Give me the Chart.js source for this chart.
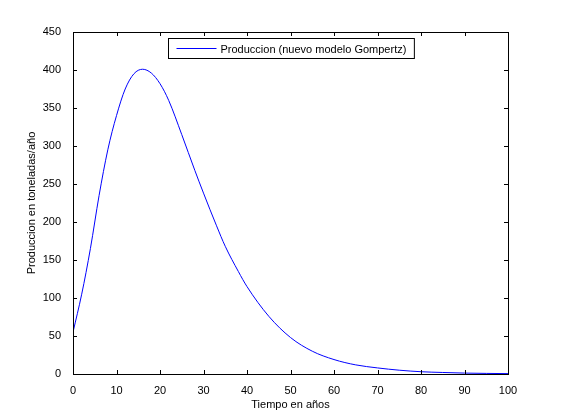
<!DOCTYPE html>
<html>
<head>
<meta charset="UTF-8">
<style>
  body { margin: 0; background: #fff; }
  #wrap { width: 561px; height: 420px; }
</style>
</head>
<body>
<div id="wrap"><canvas id="chart"></canvas></div>
<script src="https://cdn.jsdelivr.net/npm/chart.js"></script>
<script>
// Datos
const years = [0, 2, 4, 6, 8, 10, 12, 14, 16, 18, 20, 22, 25, 28, 30, 33, 35, 38, 40, 45, 50, 55, 60, 65, 70, 75, 80, 85, 90, 95, 100];
const produccion = [55, 105, 165, 235, 295, 340, 375, 395, 401, 396, 382, 360, 315, 268, 238, 195, 168, 135, 115, 76, 48, 30, 19, 12, 8, 5, 3, 2, 1.2, 0.8, 0.5];
const xTicks = [0, 10, 20, 30, 40, 50, 60, 70, 80, 90, 100];
const yTicks = [0, 50, 100, 150, 200, 250, 300, 350, 400, 450];
const legendText = 'Produccion (nuevo modelo Gompertz)';

const font = { family: 'Liberation Sans, Arial, sans-serif', size: 11 };

// ejes tipo matlab: marco, marcas hacia dentro, titulos y leyenda
const matlabAxes = {
  id: 'matlabAxes',
  afterDraw(chart) {
    const c = chart.ctx, a = chart.chartArea;
    const xs = chart.scales.x, ys = chart.scales.y;
    c.save();
    c.strokeStyle = '#000';
    c.lineWidth = 1;
    c.strokeRect(a.left + 0.5, a.top + 0.5, a.right - a.left, a.bottom - a.top);
    c.beginPath();
    xTicks.forEach(t => {
      const px = Math.round(xs.getPixelForValue(t)) + 0.5;
      c.moveTo(px, a.bottom); c.lineTo(px, a.bottom - 4);
      c.moveTo(px, a.top); c.lineTo(px, a.top + 4);
    });
    yTicks.forEach(t => {
      const py = Math.round(ys.getPixelForValue(t)) + 0.5;
      c.moveTo(a.left, py); c.lineTo(a.left + 4, py);
      c.moveTo(a.right, py); c.lineTo(a.right - 4, py);
    });
    c.stroke();
    c.fillStyle = '#000';
    c.font = '11px ' + font.family;
    c.textAlign = 'center';
    c.fillText('Tiempo en años', (a.left + a.right) / 2, a.bottom + 34);
    c.save();
    c.translate(a.left - 38, (a.top + a.bottom) / 2);
    c.rotate(-Math.PI / 2);
    c.fillText('Produccion en toneladas/año', 0, 0);
    c.restore();
    // leyenda
    c.textAlign = 'left';
    c.textBaseline = 'middle';
    const tw = c.measureText(legendText).width;
    const w = tw + 60, h = 20;
    const lx = Math.round((a.left + a.right) / 2 - w / 2) + 0.5, ly = a.top + 6.5;
    c.fillStyle = '#fff';
    c.fillRect(lx, ly, w, h);
    c.strokeRect(lx, ly, w, h);
    c.strokeStyle = '#0000ff';
    c.beginPath();
    c.moveTo(lx + 8, ly + h / 2); c.lineTo(lx + 48, ly + h / 2);
    c.stroke();
    c.fillStyle = '#000';
    c.fillText(legendText, lx + 52, ly + h / 2 + 1);
    c.restore();
  }
};

new Chart(document.getElementById('chart'), {
  type: 'line',
  data: {
    datasets: [{
      data: years.map((t, i) => ({ x: t, y: produccion[i] })),
      borderColor: '#0000ff',
      borderWidth: 1,
      pointRadius: 0,
      cubicInterpolationMode: 'monotone',
      fill: false
    }]
  },
  options: {
    responsive: true,
    maintainAspectRatio: false,
    animation: false,
    layout: { padding: { left: 0, right: 53, top: 32, bottom: 0 } },
    plugins: { legend: { display: false }, tooltip: { enabled: false } },
    scales: {
      x: {
        type: 'linear', min: 0, max: 100,
        afterBuildTicks: s => { s.ticks = xTicks.map(v => ({ value: v })); },
        afterFit: s => { s.height = 46; },
        grid: { display: false },
        border: { display: false },
        ticks: { color: '#000', font, maxRotation: 0, padding: 2 }
      },
      y: {
        min: 0, max: 450,
        afterBuildTicks: s => { s.ticks = yTicks.map(v => ({ value: v })); },
        afterFit: s => { s.width = 73; },
        grid: { display: false },
        border: { display: false },
        ticks: { color: '#000', font, padding: 4 }
      }
    }
  },
  plugins: [matlabAxes]
});
</script>
</body>
</html>
